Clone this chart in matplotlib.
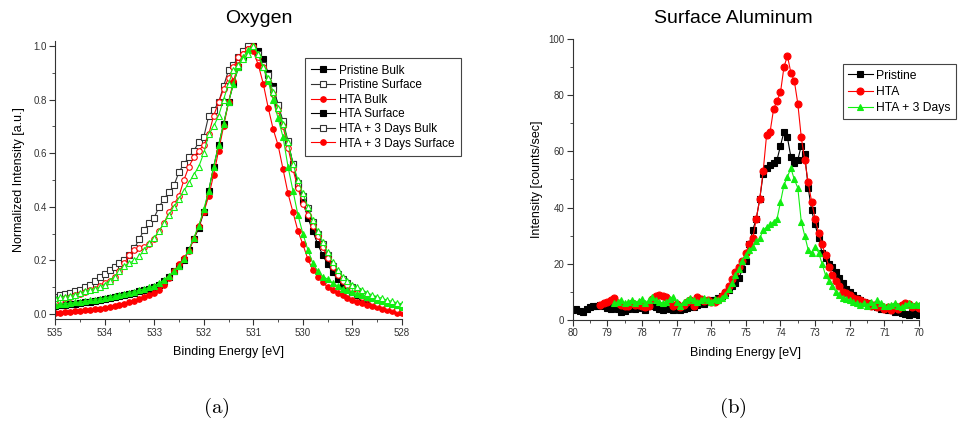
import numpy as np
import matplotlib
matplotlib.use('Agg')
import matplotlib.pyplot as plt
from matplotlib.ticker import MultipleLocator

plt.rcParams['font.family'] = ['Liberation Sans', 'DejaVu Sans']
plt.rcParams['mathtext.fontset'] = 'cm'

# ---------- Oxygen data (binding energy 535.0 -> 528.0, 0.1 eV step) ----------
o_energy = np.round(np.linspace(535.0, 528.0, 71), 1)

pristine_bulk = [
    0.030, 0.032, 0.034, 0.036, 0.038, 0.040, 0.043, 0.046, 0.050, 0.053,
    0.056, 0.060, 0.064, 0.068, 0.072, 0.076, 0.080, 0.085, 0.090, 0.095,
    0.100, 0.110, 0.125, 0.140, 0.160, 0.180, 0.200, 0.240, 0.280, 0.320,
    0.380, 0.460, 0.550, 0.630, 0.710, 0.790, 0.860, 0.920, 0.960, 0.990,
    1.000, 0.980, 0.950, 0.900, 0.850, 0.780, 0.710, 0.640, 0.560, 0.480,
    0.420, 0.360, 0.310, 0.260, 0.220, 0.185, 0.155, 0.130, 0.110, 0.095,
    0.082, 0.070, 0.060, 0.052, 0.045, 0.040, 0.035, 0.030, 0.027, 0.024,
    0.020]
pristine_surface = [
    0.065, 0.070, 0.075, 0.080, 0.085, 0.090, 0.100, 0.110, 0.125, 0.140,
    0.150, 0.165, 0.175, 0.190, 0.200, 0.220, 0.245, 0.280, 0.315, 0.340,
    0.360, 0.400, 0.430, 0.455, 0.480, 0.530, 0.560, 0.585, 0.610, 0.640,
    0.660, 0.740, 0.760, 0.790, 0.850, 0.910, 0.930, 0.960, 0.980, 1.000,
    0.990, 0.970, 0.930, 0.890, 0.840, 0.780, 0.720, 0.645, 0.560, 0.490,
    0.440, 0.395, 0.345, 0.300, 0.260, 0.220, 0.180, 0.150, 0.130, 0.115,
    0.100, 0.085, 0.070, 0.060, 0.055, 0.045, 0.040, 0.035, 0.030, 0.028,
    0.025]
hta_bulk = [
    0.005, 0.005, 0.007, 0.008, 0.010, 0.012, 0.014, 0.016, 0.018, 0.020,
    0.023, 0.026, 0.030, 0.034, 0.038, 0.043, 0.048, 0.055, 0.062, 0.070,
    0.078, 0.090, 0.110, 0.135, 0.160, 0.185, 0.210, 0.235, 0.280, 0.330,
    0.380, 0.440, 0.520, 0.610, 0.700, 0.790, 0.870, 0.930, 0.970, 0.990,
    0.980, 0.930, 0.860, 0.770, 0.690, 0.630, 0.540, 0.450, 0.380, 0.310,
    0.260, 0.205, 0.165, 0.140, 0.120, 0.100, 0.090, 0.080, 0.070, 0.060,
    0.052, 0.045, 0.040, 0.035, 0.030, 0.025, 0.020, 0.015, 0.010, 0.005,
    0.003]
hta_surface = [
    0.040, 0.050, 0.060, 0.065, 0.070, 0.075, 0.083, 0.090, 0.095, 0.105,
    0.115, 0.125, 0.140, 0.160, 0.190, 0.220, 0.240, 0.245, 0.250, 0.260,
    0.280, 0.310, 0.340, 0.380, 0.410, 0.440, 0.500, 0.550, 0.585, 0.610,
    0.630, 0.670, 0.740, 0.790, 0.840, 0.880, 0.920, 0.960, 0.970, 0.990,
    1.000, 0.960, 0.920, 0.870, 0.820, 0.760, 0.700, 0.620, 0.540, 0.470,
    0.410, 0.370, 0.330, 0.290, 0.250, 0.210, 0.175, 0.145, 0.125, 0.110,
    0.095, 0.080, 0.065, 0.058, 0.050, 0.042, 0.036, 0.030, 0.025, 0.020,
    0.020]
hta3_bulk = [
    0.035, 0.037, 0.039, 0.041, 0.043, 0.045, 0.048, 0.051, 0.054, 0.057,
    0.060, 0.064, 0.068, 0.072, 0.076, 0.080, 0.084, 0.089, 0.094, 0.099,
    0.105, 0.115, 0.128, 0.143, 0.160, 0.180, 0.205, 0.240, 0.285, 0.330,
    0.390, 0.460, 0.550, 0.630, 0.710, 0.790, 0.860, 0.920, 0.960, 0.985,
    1.000, 0.970, 0.920, 0.870, 0.800, 0.730, 0.660, 0.550, 0.460, 0.370,
    0.300, 0.240, 0.190, 0.160, 0.140, 0.130, 0.115, 0.105, 0.095, 0.088,
    0.082, 0.076, 0.070, 0.064, 0.058, 0.053, 0.048, 0.042, 0.037, 0.032,
    0.028]
hta3_surface = [
    0.060, 0.062, 0.065, 0.068, 0.072, 0.078, 0.085, 0.090, 0.095, 0.100,
    0.110, 0.125, 0.140, 0.160, 0.180, 0.190, 0.200, 0.215, 0.240, 0.265,
    0.285, 0.310, 0.340, 0.370, 0.400, 0.430, 0.460, 0.490, 0.520, 0.550,
    0.600, 0.670, 0.700, 0.740, 0.800, 0.860, 0.910, 0.930, 0.950, 0.970,
    1.000, 0.970, 0.920, 0.880, 0.830, 0.770, 0.710, 0.640, 0.560, 0.500,
    0.450, 0.400, 0.350, 0.310, 0.270, 0.230, 0.195, 0.165, 0.140, 0.125,
    0.110, 0.100, 0.090, 0.080, 0.070, 0.065, 0.058, 0.052, 0.047, 0.042,
    0.038]

# ---------- Surface aluminum data ----------
al_energy_pristine = np.round(np.linspace(80.0, 70.0, 101), 1)
al_energy_hta = np.round(np.linspace(79.2, 70.0, 93), 1)
al_energy_hta3 = np.round(np.linspace(78.8, 70.0, 89), 1)

al_pristine = [
    3.5, 4.0, 3.2, 3.0, 3.8, 4.5, 5.0, 4.8, 5.2, 5.0, 4.2,
    3.8, 4.5, 4.0, 3.0, 3.2, 3.8, 4.5, 4.0, 4.6, 4.2,
    3.5, 4.8, 5.2, 4.6, 4.0, 3.6, 4.2, 4.0, 3.6, 4.4,
    3.6, 3.8, 4.4, 5.0, 4.7, 5.5, 6.0, 5.8, 6.5, 7.0,
    7.2, 7.8, 8.5, 9.5, 10.5, 12.0, 13.0, 15.0, 18.0, 21.0,
    27.0, 32.0, 36.0, 43.0, 52.0, 54.0, 55.0, 56.0, 57.0, 62.0,
    67.0, 65.0, 58.0, 56.0, 57.0, 62.0, 59.0, 47.0, 39.0, 34.0,
    29.0, 24.0, 22.0, 20.0, 19.0, 17.0, 15.0, 13.0, 11.0, 10.0,
    9.0, 8.0, 7.0, 6.5, 6.0, 5.5, 5.0, 4.5, 4.0, 3.8,
    3.6, 3.5, 3.0, 3.2, 2.5, 2.2, 1.8, 2.5, 2.0, 1.8]
al_hta = [
    5.5, 6.0, 6.5,
    7.0, 7.8, 6.0, 5.5, 5.0, 4.8, 6.0, 5.2, 5.5, 4.8,
    4.5, 5.0, 7.5, 8.5, 9.0, 8.6, 8.3, 6.5, 5.0, 5.8,
    4.7, 5.5, 6.5, 7.0, 5.0, 8.3, 7.5, 6.8, 7.0, 6.5,
    6.5, 7.0, 8.5, 10.0, 12.0, 14.5, 17.0, 19.0, 21.0, 24.0,
    27.0, 29.0, 36.0, 43.0, 53.0, 66.0, 67.0, 75.0, 78.0, 81.0,
    90.0, 94.0, 88.0, 85.0, 77.0, 65.0, 57.0, 49.0, 42.0, 36.0,
    31.0, 27.0, 23.0, 19.0, 16.0, 14.0, 12.0, 10.0, 9.5, 9.0,
    8.0, 7.5, 7.0, 6.5, 6.0, 5.0, 5.5, 4.5, 5.0, 4.0,
    4.5, 3.5, 4.8, 4.0, 5.5, 6.0, 5.8, 4.5, 5.0, 4.2]
al_hta3 = [
    5.9, 6.5, 7.0, 6.0, 6.5, 7.0, 6.2, 6.8, 7.5,
    6.0, 7.0, 8.3, 7.0, 6.5, 6.0, 6.5, 7.5, 8.3, 6.5,
    5.0, 6.5, 7.0, 8.0, 7.2, 6.5, 7.0, 7.8, 7.0, 6.5,
    7.5, 7.0, 8.0, 9.0, 11.0, 13.0, 16.0, 18.0, 21.0, 23.0,
    25.0, 26.0, 28.0, 29.0, 32.0, 33.0, 34.0, 35.0, 36.0, 42.0,
    48.0, 51.0, 54.0, 50.0, 47.0, 35.0, 30.0, 25.0, 24.0, 26.0,
    24.0, 20.0, 16.0, 14.0, 12.0, 10.0, 9.0, 8.0, 7.5, 7.0,
    6.5, 6.0, 5.5, 6.0, 5.0, 6.5, 5.5, 7.0, 6.0, 5.0,
    4.8, 5.5, 6.0, 5.0, 4.5, 5.5, 6.0, 5.2, 5.8, 5.5]

black = '#000000'
red = '#ff0000'
green = '#11ee11'

fig = plt.figure(figsize=(9.59, 4.33), dpi=100)
ax1 = fig.add_axes([0.0574, 0.2624, 0.3618, 0.6437])
ax2 = fig.add_axes([0.5972, 0.2610, 0.3611, 0.6490])


def style_axes(ax):
    for side in ['top', 'right']:
        ax.spines[side].set_visible(False)
    for side in ['left', 'bottom']:
        ax.spines[side].set_linewidth(0.8)
        ax.spines[side].set_color('#333333')
    ax.tick_params(which='major', direction='out', length=4, width=0.8,
                   labelsize=7, colors='#333333', pad=2)
    ax.tick_params(which='minor', direction='out', length=2, width=0.6,
                   colors='#333333')


# ----- (a) Oxygen -----
kw = dict(lw=0.8, ms=4, mew=0.8)
l_pb, = ax1.plot(o_energy, pristine_bulk, '-s', color=black, mfc=black, **kw)
l_ps, = ax1.plot(o_energy, pristine_surface, '-s', color='#333333', mfc='white', **kw)
l_hb, = ax1.plot(o_energy, hta_bulk, '-o', color=red, mfc=red, **kw)
ax1.plot(o_energy, hta_surface, '-o', color=red, mfc='white', **kw)
ax1.plot(o_energy, hta3_bulk, '-^', color=green, mfc=green, **kw)
ax1.plot(o_energy, hta3_surface, '-^', color=green, mfc='white', **kw)

ax1.set_xlim(535, 528)
ax1.set_ylim(-0.02, 1.02)
ax1.xaxis.set_major_locator(MultipleLocator(1))
ax1.xaxis.set_minor_locator(MultipleLocator(0.5))
ax1.yaxis.set_major_locator(MultipleLocator(0.2))
ax1.yaxis.set_minor_locator(MultipleLocator(0.1))
ax1.yaxis.set_major_formatter(matplotlib.ticker.FormatStrFormatter('%.1f'))
style_axes(ax1)
ax1.set_xlabel('Binding Energy [eV]', fontsize=9, labelpad=6)
ax1.set_ylabel('Normalized Intensity [a.u.]', fontsize=9, labelpad=6)

# legend reproduced as it appears in the source figure
leg1 = ax1.legend([l_pb, l_ps, l_hb, l_pb, l_ps, l_hb],
                  ['Pristine Bulk', 'Pristine Surface', 'HTA Bulk',
                   'HTA Surface', 'HTA + 3 Days Bulk', 'HTA + 3 Days Surface'],
                  loc='upper left', bbox_to_anchor=(0.318, 0.866),
                  bbox_transform=fig.transFigure, fontsize=8.5,
                  handlelength=2.0, handletextpad=0.3, labelspacing=0.22,
                  borderpad=0.55, fancybox=False, framealpha=1,
                  edgecolor='#444444', borderaxespad=0)
leg1.get_frame().set_linewidth(0.8)

# ----- (b) Surface Aluminum -----
kw2 = dict(lw=0.8, ms=5, mew=0.8)
ax2.plot(al_energy_pristine, al_pristine, '-s', color=black, label='Pristine', **kw2)
ax2.plot(al_energy_hta, al_hta, '-o', color=red, label='HTA', **kw2)
ax2.plot(al_energy_hta3, al_hta3, '-^', color=green, label='HTA + 3 Days', **kw2)

ax2.set_xlim(80, 70)
ax2.set_ylim(0, 100)
ax2.xaxis.set_major_locator(MultipleLocator(1))
ax2.xaxis.set_minor_locator(MultipleLocator(0.5))
ax2.yaxis.set_major_locator(MultipleLocator(20))
ax2.yaxis.set_minor_locator(MultipleLocator(10))
style_axes(ax2)
ax2.set_xlabel('Binding Energy [eV]', fontsize=9, labelpad=6)
ax2.set_ylabel('Intensity [counts/sec]', fontsize=9, labelpad=4)

leg2 = ax2.legend(loc='upper left', bbox_to_anchor=(0.879, 0.852),
                  bbox_transform=fig.transFigure, fontsize=8.7,
                  handlelength=2.0, handletextpad=0.3, labelspacing=0.35,
                  borderpad=0.45, fancybox=False, framealpha=1,
                  edgecolor='#444444', borderaxespad=0)
leg2.get_frame().set_linewidth(0.8)

# titles and captions
fig.text(0.270, 0.958, 'Oxygen', ha='center', va='center', fontsize=14)
fig.text(0.765, 0.958, 'Surface Aluminum', ha='center', va='center', fontsize=14)
fig.text(0.226, 0.058, r'$\mathrm{(a)}$', ha='center', va='center', fontsize=15)
fig.text(0.764, 0.058, r'$\mathrm{(b)}$', ha='center', va='center', fontsize=15)

fig.savefig('out.png', dpi=100)
